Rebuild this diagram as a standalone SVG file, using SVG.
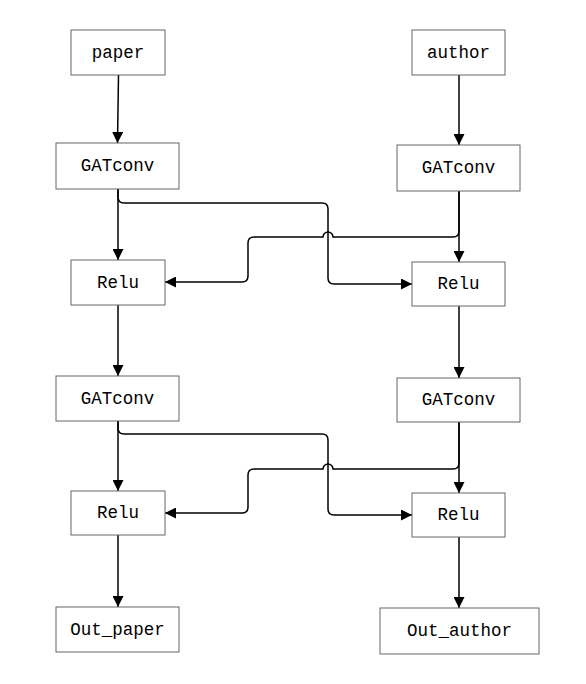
<svg xmlns="http://www.w3.org/2000/svg" width="586" height="684" viewBox="0 0 586 684">
<style>
.box{fill:#fff;stroke:#666;stroke-width:1}
.lbl{font-family:"Liberation Mono","DejaVu Sans Mono",monospace;font-size:17.5px;fill:#000;text-anchor:middle;dominant-baseline:central}
.edge{fill:none;stroke:#000;stroke-width:1.5;marker-end:url(#arr)}
</style>
<defs>
<marker id="arr" markerUnits="userSpaceOnUse" markerWidth="11" markerHeight="11" refX="11" refY="5.5" orient="auto">
<path d="M0,0 L11,5.5 L0,11 z" fill="#000"/>
</marker>
</defs>
<rect width="586" height="684" fill="#fff"/>
<g id="connectors">
<path class="edge" d="M118.5,75 L117.5,143"/>
<path class="edge" d="M459,75 V145"/>
<path class="edge" d="M118,189 V260"/>
<path class="edge" d="M459,191 V262"/>
<path class="edge" d="M118,189 V197 Q118,203 124,203 H322 Q328,203 328,209 V278 Q328,284 334,284 H412"/>
<path class="edge" d="M459,191 V231 Q459,237 453,237 H333 A5,5 0 0 0 323,237 H254 Q248,237 248,243 V276 Q248,282 242,282 H165"/>
<path class="edge" d="M118,305 V376"/>
<path class="edge" d="M459,306 V378"/>
<path class="edge" d="M118,421 V491"/>
<path class="edge" d="M459,422 V493"/>
<path class="edge" d="M118,421 V428 Q118,434 124,434 H322 Q328,434 328,440 V509 Q328,515 334,515 H412"/>
<path class="edge" d="M459,422 V463 Q459,469 453,469 H333 A5,5 0 0 0 323,469 H254 Q248,469 248,475 V507 Q248,513 242,513 H165"/>
<path class="edge" d="M118,535 V607"/>
<path class="edge" d="M459,537 V608"/>
</g>
<g id="paper"><rect class="box" x="71" y="30" width="94" height="45"/><text class="lbl" x="118" y="52.5">paper</text></g>
<g id="author"><rect class="box" x="412" y="30" width="93" height="45"/><text class="lbl" x="458.5" y="52.5">author</text></g>
<g id="gatconv_p1"><rect class="box" x="56" y="143" width="123" height="46"/><text class="lbl" x="117.5" y="166">GATconv</text></g>
<g id="gatconv_a1"><rect class="box" x="397" y="145" width="123" height="46"/><text class="lbl" x="458.5" y="168">GATconv</text></g>
<g id="relu_p1"><rect class="box" x="71" y="260" width="94" height="45"/><text class="lbl" x="118" y="282.5">Relu</text></g>
<g id="relu_a1"><rect class="box" x="412" y="262" width="93" height="44"/><text class="lbl" x="458.5" y="284">Relu</text></g>
<g id="gatconv_p2"><rect class="box" x="56" y="376" width="123" height="45"/><text class="lbl" x="117.5" y="398.5">GATconv</text></g>
<g id="gatconv_a2"><rect class="box" x="397" y="378" width="123" height="44"/><text class="lbl" x="458.5" y="400">GATconv</text></g>
<g id="relu_p2"><rect class="box" x="71" y="491" width="94" height="44"/><text class="lbl" x="118" y="513">Relu</text></g>
<g id="relu_a2"><rect class="box" x="412" y="493" width="93" height="44"/><text class="lbl" x="458.5" y="515">Relu</text></g>
<g id="out_paper"><rect class="box" x="56" y="607" width="123" height="45"/><text class="lbl" x="117.5" y="629.5">Out_paper</text></g>
<g id="out_author"><rect class="box" x="380" y="608" width="159" height="46"/><text class="lbl" x="459.5" y="631">Out_author</text></g>
</svg>
